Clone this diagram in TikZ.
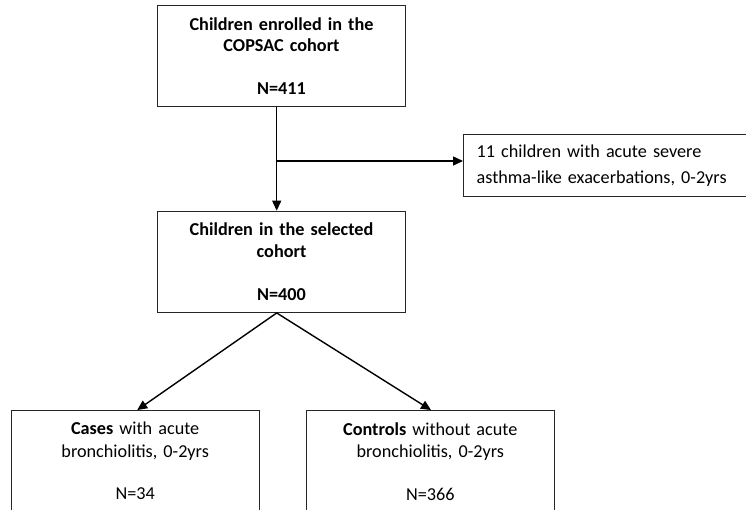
\documentclass[tikz,border=0pt]{standalone}
\usepackage{fontspec}
\setmainfont{Carlito}
\usetikzlibrary{arrows.meta}

\begin{document}
\begin{tikzpicture}
  [x=1pt,y=-1pt,
   box/.style={draw=black!85,line width=1.3pt,fill=white,text width=230pt,inner xsep=9pt,
     minimum height=101pt,align=center,font=\fontsize{18.2}{21.6}\selectfont},
   sidebox/.style={draw=black!85,line width=1.3pt,fill=white,text width=300pt,inner xsep=13pt,
     minimum height=62pt,align=left,anchor=west,font=\fontsize{18.2}{26.7}\selectfont},
   arr/.style={line width=1.4pt,-{Triangle[length=10pt,width=9pt]}}]
  \useasboundingbox (0,0) rectangle (746,510);
  \clip (0,0) rectangle (746,510);

  \node[box] (enrolled) at (281.5,56.2) {\textbf{Children enrolled in the}\\\textbf{COPSAC cohort}\\[21.6pt]\textbf{N=411}};
  \node[box] (selected) at (281.5,261.8) {\textbf{Children in the selected}\\\textbf{cohort}\\[21.6pt]\textbf{N=400}};
  \node[sidebox] (excluded) at (463,165.7) {11 children with acute severe\\asthma-like exacerbations, 0-2yrs};
  \node[box,font=\fontsize{18.2}{22.5}\selectfont] (cases) at (135.2,461.2) {\textbf{Cases} with acute\\bronchiolitis, 0-2yrs\\[20pt]N=34};
  \node[box,font=\fontsize{18.2}{22.5}\selectfont] (controls) at (430.3,461.2) {\textbf{Controls} without acute\\bronchiolitis, 0-2yrs\\[20pt]N=366};

  \coordinate (branch) at (276.7,161);
  \draw[arr] ([xshift=-4.8pt]enrolled.south) -- ([xshift=-4.8pt]selected.north);
  \draw[arr] (branch) -- (branch -| excluded.west);
  \draw[arr] ([xshift=-4.8pt]selected.south) -- ([xshift=2pt]cases.north);
  \draw[arr] ([xshift=-4.8pt]selected.south) -- ([xshift=0.7pt]controls.north);

\end{tikzpicture}
\end{document}
